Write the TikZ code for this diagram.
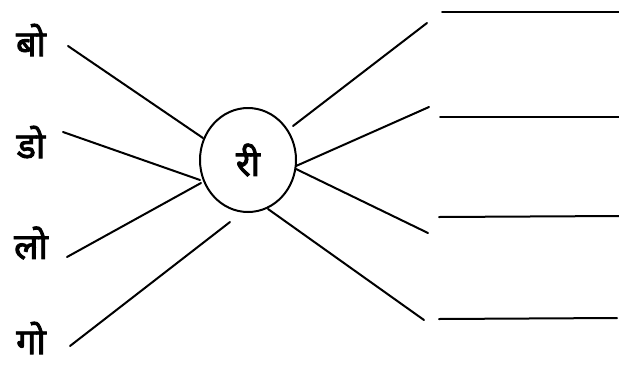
\documentclass[tikz,border=0pt]{standalone}
\usepackage{fontspec}
\usetikzlibrary{shapes.geometric}
\newfontfamily\deva[Script=Devanagari, FakeBold=2.5]{Noto Sans}
\begin{document}
\begin{tikzpicture}[x=1pt,y=-1pt,
  lbl/.style={font=\deva\fontsize{36}{38}\selectfont, inner sep=0pt},
  ln/.style={line width=2pt, line cap=round},
  hub/.style={draw, line width=2pt, ellipse, minimum width=96pt, minimum height=104pt, inner sep=0pt, font=\deva\fontsize{36}{38}\selectfont}]
\useasboundingbox (0,0) rectangle (619,365);
\node[lbl] (bo) at (31,40) {बो};
\node[lbl] (do) at (31,142) {डो};
\node[lbl] (lo) at (31,243) {लो};
\node[lbl] (go) at (31,338) {गो};
\node[hub] (ri) at (248,160) {री};
% left connector ends
\coordinate (b1) at (68,46);   \coordinate (b2) at (203,138);
\coordinate (d1) at (63,132);  \coordinate (d2) at (200,180);
\coordinate (l1) at (67,257);  \coordinate (l2) at (201,183);
\coordinate (g1) at (70,346);  \coordinate (g2) at (230,222);
% right connector ends
\coordinate (r1a) at (293,126); \coordinate (r1b) at (427,23);
\coordinate (r2a) at (296,166); \coordinate (r2b) at (429,107);
\coordinate (r3a) at (296,169); \coordinate (r3b) at (428,233);
\coordinate (r4a) at (268,209); \coordinate (r4b) at (424,320);
% answer lines
\coordinate (h1a) at (442,12);  \coordinate (h1b) at (619,12);
\coordinate (h2a) at (440,117); \coordinate (h2b) at (619,117);
\coordinate (h3a) at (439,217); \coordinate (h3b) at (619,216);
\coordinate (h4a) at (439,319); \coordinate (h4b) at (617,318);
\draw[ln] (b1) -- (b2);
\draw[ln] (d1) -- (d2);
\draw[ln] (l1) -- (l2);
\draw[ln] (g1) -- (g2);
\draw[ln] (r1a) -- (r1b);
\draw[ln] (r2a) -- (r2b);
\draw[ln] (r3a) -- (r3b);
\draw[ln] (r4a) -- (r4b);
\draw[ln] (h1a) -- (h1b);
\draw[ln] (h2a) -- (h2b);
\draw[ln] (h3a) -- (h3b);
\draw[ln] (h4a) -- (h4b);
\end{tikzpicture}
\end{document}
